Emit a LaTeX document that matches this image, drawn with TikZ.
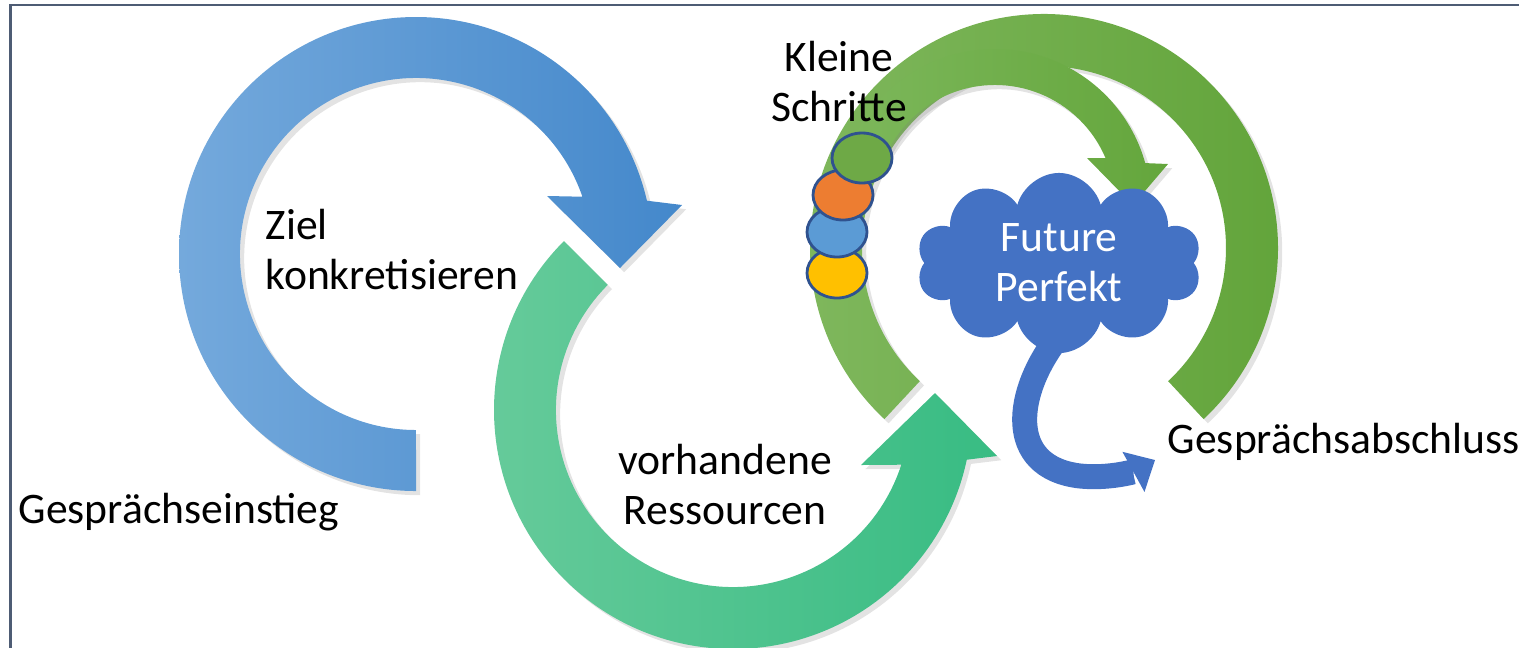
\documentclass[tikz,border=0pt]{standalone}
\usepackage{fontspec}
\setmainfont{Carlito}
\usetikzlibrary{shapes.symbols,shadows,arrows.meta}

\definecolor{framegray}{HTML}{4E5C74}
\definecolor{zielA}{HTML}{74A9DC}
\definecolor{zielB}{HTML}{4488CB}
\definecolor{ressA}{HTML}{67CB9B}
\definecolor{ressB}{HTML}{38BC83}
\definecolor{schlussA}{HTML}{80B85E}
\definecolor{schlussB}{HTML}{62A43A}
\definecolor{schrittA}{HTML}{7CB75A}
\definecolor{schrittB}{HTML}{64A63C}
\definecolor{dotgreen}{HTML}{6EA946}
\definecolor{dotorange}{HTML}{ED7D31}
\definecolor{dotblue}{HTML}{5B9BD5}
\definecolor{dotyellow}{HTML}{FFC000}
\definecolor{dotline}{HTML}{2F528F}
\definecolor{cloudblue}{HTML}{4472C4}

\begin{document}
\begin{tikzpicture}[x=0.01cm,y=0.01cm,
    txt/.style={font=\fontsize{12.4}{14.2}\selectfont,inner sep=0pt},
    shadowed/.style={drop shadow={shadow xshift=1.2pt,shadow yshift=-1.2pt,opacity=0.22}},
    dot/.style={draw=dotline,line width=0.8pt,fill=#1}]

\useasboundingbox (0,0) rectangle (1519,647);

        % draw the frame
        \draw[framegray,line width=0.7pt] (10.7,-20) -- (10.7,642) -- (1540,642);

        % draw the blue arrow
        \shade[shadowed,left color=zielA,right color=zielB]
            (416,156) arc[start angle=270,end angle=13,radius=237]
            -- (682,442) -- (620,379) -- (547,451) -- (582.4,450.3)
            arc[start angle=19,end angle=270,radius=176] -- cycle;

        % draw the teal arrow
        \shade[shadowed,left color=ressA,right color=ressB]
            (564,406) arc[start angle=135,end angle=348,radius=239]
            -- (997,191) -- (935,254) -- (861,182) -- (901.3,182.3)
            arc[start angle=342,end angle=135,radius=177] -- cycle;

        % draw the big green arc
        \shade[shadowed,left color=schlussA,right color=schlussB]
            (884.4,227.9) arc[start angle=227,end angle=-47,radius=234]
            -- (1168.1,265.9)
            arc[start angle=-47,end angle=227,radius=182] -- cycle;

        % draw the small green arrow
        \shade[shadowed,left color=schrittA,right color=schrittB]
            (853.6,507.9) arc[start angle=155,end angle=15.6,radius=156]
            -- (1168,483) -- (1133,442) -- (1087,489) -- (1105.5,488.9)
            arc[start angle=23,end angle=155,radius=120] -- cycle;

        % the little steps
        \draw[dot=dotyellow] (837,374) ellipse (30 and 25);
        \draw[dot=dotblue]   (837,415) ellipse (30 and 25);
        \draw[dot=dotorange] (843,452) ellipse (30 and 25);
        \draw[dot=dotgreen]  (862,489) ellipse (30 and 25);

        % cloud and its tail
        \draw[cloudblue,line width=7.1pt,-{Triangle[width=13pt,length=7pt,line width=0pt]}]
            (1058,310) .. controls (1015,255) and (1005,180) .. (1080,171)
            .. controls (1110,168) and (1135,176) .. (1155,187);
        \node[cloud,cloud puffs=10,aspect=1.6,fill=cloudblue,draw=none,
              minimum width=2.85cm,minimum height=1.8cm,
              txt,text=white,align=center] (fp) at (1059,384) {Future\\Perfekt};

        % labels (base = last line)
        \node[txt,anchor=base west,align=left] (ziel) at (265,358) {Ziel\\konkretisieren};
        \node[txt,anchor=base west] (einstieg) at (18,124) {Gesprächseinstieg};
        \node[txt,anchor=base,align=center] (ress) at (725,123) {vorhandene\\Ressourcen};
        \node[txt,anchor=base,align=center] (schritte) at (839,526) {Kleine\\Schritte};
        \node[txt,anchor=base west] (abschluss) at (1167,194) {Gesprächsabschluss};
\end{tikzpicture}
\end{document}
